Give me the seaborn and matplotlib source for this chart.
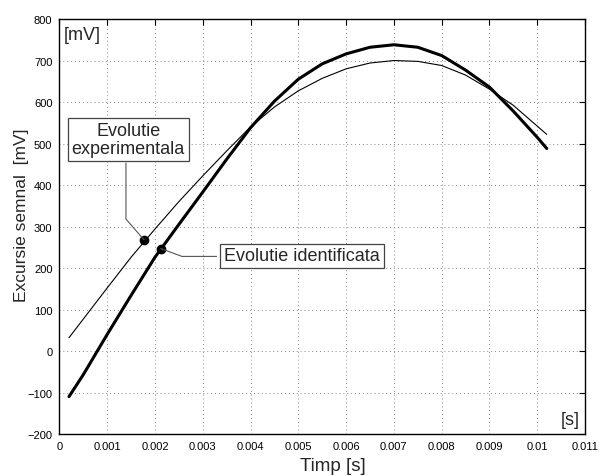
import matplotlib
matplotlib.use("Agg")
import matplotlib.pyplot as plt
import seaborn as sns
import pandas as pd

time_s = [0.0002, 0.0005, 0.001, 0.0015, 0.002, 0.0025, 0.003, 0.0035, 0.004,
          0.0045, 0.005, 0.0055, 0.006, 0.0065, 0.007, 0.0075, 0.008, 0.0085,
          0.009, 0.0095, 0.01, 0.0102]
experimental_mv = [32, 77, 152, 226, 294, 360, 422, 482, 540, 588, 627, 657,
                   680, 694, 700, 698, 688, 665, 631, 592, 542, 522]
identified_mv = [-110, -57, 40, 134, 226, 305, 383, 462, 538, 602, 655, 692,
                 716, 732, 738, 732, 712, 677, 636, 578, 515, 488]

marker_exp = (0.00177, 268)
marker_id = (0.00212, 247)

x_ticks = [0, 0.001, 0.002, 0.003, 0.004, 0.005, 0.006, 0.007, 0.008, 0.009, 0.01, 0.011]
x_tick_labels = ["0", "0.001", "0.002", "0.003", "0.004", "0.005", "0.006",
                 "0.007", "0.008", "0.009", "0.01", "0.011"]
y_ticks = [-200, -100, 0, 100, 200, 300, 400, 500, 600, 700, 800]

sns.set_style("white")
plt.rcParams['font.family'] = ['Liberation Sans', 'DejaVu Sans']

df_exp = pd.DataFrame({"t": time_s, "v": experimental_mv})
df_id = pd.DataFrame({"t": time_s, "v": identified_mv})

fig = plt.figure(figsize=(6.0, 4.77), dpi=100)
ax = fig.add_axes([0.099, 0.088, 0.876, 0.870])

sns.lineplot(data=df_exp, x="t", y="v", ax=ax, color="black", linewidth=0.8)
sns.lineplot(data=df_id, x="t", y="v", ax=ax, color="black", linewidth=2.2)

ax.plot([marker_exp[0]], [marker_exp[1]], "o", color="black", markersize=6)
ax.plot([marker_id[0]], [marker_id[1]], "o", color="black", markersize=6)

# leader lines
ax.plot([0.001393, 0.001393, marker_exp[0]], [453, 318, marker_exp[1]],
        color="#555555", linewidth=0.8)
ax.plot([marker_id[0], 0.002565, 0.00329], [marker_id[1], 228, 228],
        color="#555555", linewidth=0.8)

box = dict(boxstyle="square,pad=0.22", facecolor="white", edgecolor="#444444", linewidth=0.9)
ax.text(0.00144, 509, "Evolutie\nexperimentala", ha="center", va="center",
        fontsize=13, bbox=box, linespacing=1.05)
ax.text(0.00508, 229, "Evolutie identificata", ha="center", va="center",
        fontsize=13, bbox=box)

ax.text(0.0001, 762, "[mV]", ha="left", va="center", fontsize=13)
ax.text(0.01088, -166, "[s]", ha="right", va="center", fontsize=13)

ax.set_xlim(0, 0.011)
ax.set_ylim(-200, 800)
ax.set_xticks(x_ticks)
ax.set_xticklabels(x_tick_labels)
ax.set_yticks(y_ticks)
ax.tick_params(direction="in", length=4, labelsize=8, colors="black", pad=5,
               top=True, right=True)
ax.grid(True, linestyle=(0, (1, 3)), color="#888888", linewidth=0.7)
for s in ax.spines.values():
    s.set_color("black")
    s.set_linewidth(1.0)

ax.set_xlabel("Timp [s]", fontsize=13.5)
ax.set_ylabel("Excursie semnal  [mV]", fontsize=12.5)
ax.xaxis.set_label_coords(0.52, -0.056)
ax.yaxis.set_label_coords(-0.058, 0.53)

fig.savefig("out.png", dpi=100)
